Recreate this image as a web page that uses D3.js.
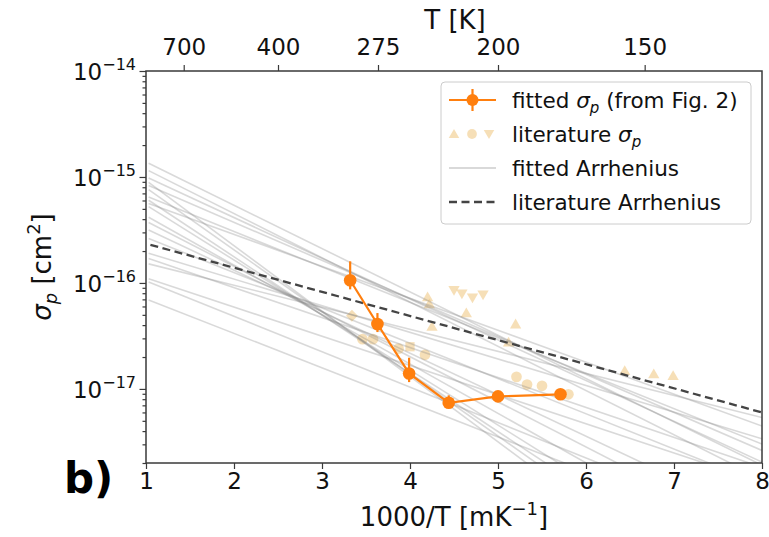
<!DOCTYPE html>
<html>
<head>
<meta charset="utf-8">
<script src="https://cdn.jsdelivr.net/npm/d3@7"></script>
<style>
  body { margin: 0; background: #fff; }
  text { font-family: "DejaVu Sans", sans-serif; }
</style>
</head>
<body>
<svg id="chart" width="769" height="537"></svg>
<script>
// fitted sigma_p (from Fig. 2)
const fittedX = [3.32, 3.63, 3.99, 4.44, 5.0, 5.71];
const fittedSigma = [1.06e-16, 4.1e-17, 1.4e-17, 7.4e-18, 8.5e-18, 8.9e-18];
const fittedLow = [8.7e-17, 3.44e-17, 1.16e-17, 6.9e-18, 8.5e-18, 8.9e-18];
const fittedHigh = [1.6e-16, 5.2e-17, 1.97e-17, 8.7e-18, 8.5e-18, 8.9e-18];

// literature sigma_p, by marker
const litUpX = [4.2, 4.22, 4.25, 4.64, 5.2, 5.12, 6.44, 6.77, 6.99];
const litUpSigma = [7.2e-17, 6.2e-17, 3.8e-17, 5.1e-17, 4.0e-17, 2.7e-17, 1.45e-17, 1.35e-17, 1.3e-17];
const litDownX = [4.5, 4.59, 4.71, 4.83];
const litDownSigma = [8.7e-17, 8.1e-17, 7.4e-17, 7.9e-17];
const litCircleX = [3.46, 3.58, 3.87, 4.17, 5.21, 5.33, 5.5, 5.8];
const litCircleSigma = [2.95e-17, 2.95e-17, 2.4e-17, 2.1e-17, 1.3e-17, 1.1e-17, 1.07e-17, 8.9e-18];
const litDiamondX = [3.34];
const litDiamondSigma = [4.9e-17];
const litSquareX = [4.0];
const litSquareSigma = [2.5e-17];

// fitted Arrhenius lines: log10(sigma) at the two ends of fitRange
const fitRange = [1.03, 8];
const fitLogStart = [-15.05, -15.12, -15.22, -15.38, -15.43, -15.5, -14.87, -14.94, -15.01,
  -15.08, -15.19, -15.25, -15.58, -15.72, -15.77, -15.82, -15.96, -15.99, -16.16, -15.28];
const fitLogEnd = [-19.35, -19.2, -19.05, -18.63, -18.4, -18.23, -17.72, -17.85, -17.69,
  -17.58, -17.52, -17.35, -17.9, -17.47, -17.74, -17.27, -17.88, -18.32, -18.43, -18.9];

// literature Arrhenius
const litArrX = [1.05, 8];
const litArrSigma = [2.29e-16, 6.0e-18];

const bottomTicks = [1, 2, 3, 4, 5, 6, 7, 8];
const topTemps = [700, 400, 275, 200, 150];
const yMajor = [1e-17, 1e-16, 1e-15, 1e-14];

const orange = "#ff7f0e";
const litColor = "#f0c987";
const axisColor = "#3a3a3a";

const svg = d3.select("#chart");
const x = d3.scaleLinear().domain([1, 8]).range([146, 762]);
const y = d3.scaleLog().domain([2e-18, 1e-14]).range([463, 71]);

svg
  .append("defs")
  .append("clipPath")
  .attr("id", "plot-clip")
  .append("rect")
  .attr("x", 146)
  .attr("y", 71)
  .attr("width", 616)
  .attr("height", 392);

const plot = svg.append("g").attr("clip-path", "url(#plot-clip)");

// literature points
const litLayer = plot.append("g").attr("fill", litColor).attr("fill-opacity", 0.6);
function drawLit(xs, vals, type, size, rot) {
  litLayer
    .selectAll(null)
    .data(xs.map((d, i) => [d, vals[i]]))
    .join("path")
    .attr("d", d3.symbol().type(type).size(size))
    .attr("transform", (d) => `translate(${x(d[0])},${y(d[1])}) rotate(${rot})`);
}
drawLit(litUpX, litUpSigma, d3.symbolTriangle, 55, 0);
drawLit(litDownX, litDownSigma, d3.symbolTriangle, 55, 180);
drawLit(litCircleX, litCircleSigma, d3.symbolCircle, 90, 0);
drawLit(litDiamondX, litDiamondSigma, d3.symbolSquare, 70, 45);
drawLit(litSquareX, litSquareSigma, d3.symbolSquare, 85, 0);

// fitted Arrhenius lines
plot
  .append("g")
  .selectAll("line")
  .data(fitLogStart.map((d, i) => [d, fitLogEnd[i]]))
  .join("line")
  .attr("x1", x(fitRange[0]))
  .attr("x2", x(fitRange[1]))
  .attr("y1", (d) => y(Math.pow(10, d[0])))
  .attr("y2", (d) => y(Math.pow(10, d[1])))
  .attr("stroke", "#808080")
  .attr("stroke-opacity", 0.3)
  .attr("stroke-width", 1.6);

// literature Arrhenius
plot
  .append("line")
  .attr("x1", x(litArrX[0]))
  .attr("x2", x(litArrX[1]))
  .attr("y1", y(litArrSigma[0]))
  .attr("y2", y(litArrSigma[1]))
  .attr("stroke", "#444")
  .attr("stroke-width", 2.3)
  .attr("stroke-dasharray", "8,4.5");

// fitted sigma_p with error bars
const fitted = fittedX.map((d, i) => ({
  x: d,
  s: fittedSigma[i],
  lo: fittedLow[i],
  hi: fittedHigh[i],
}));
plot
  .append("g")
  .selectAll("line")
  .data(fitted)
  .join("line")
  .attr("x1", (d) => x(d.x))
  .attr("x2", (d) => x(d.x))
  .attr("y1", (d) => y(d.lo))
  .attr("y2", (d) => y(d.hi))
  .attr("stroke", orange)
  .attr("stroke-width", 2.2);
plot
  .append("path")
  .datum(fitted)
  .attr("fill", "none")
  .attr("stroke", orange)
  .attr("stroke-width", 2.2)
  .attr("d", d3.line().x((d) => x(d.x)).y((d) => y(d.s)));
plot
  .append("g")
  .selectAll("circle")
  .data(fitted)
  .join("circle")
  .attr("cx", (d) => x(d.x))
  .attr("cy", (d) => y(d.s))
  .attr("r", 6.3)
  .attr("fill", orange);

// axes
svg
  .append("g")
  .attr("transform", "translate(0,463)")
  .call(
    d3
      .axisBottom(x)
      .tickValues(bottomTicks)
      .tickFormat(d3.format("d"))
      .tickSize(6)
      .tickPadding(4)
      .tickSizeOuter(0)
  );

svg
  .append("g")
  .attr("transform", "translate(0,71)")
  .call(
    d3
      .axisTop(x)
      .tickValues(topTemps.map((t) => 1000 / t))
      .tickFormat((d, i) => topTemps[i])
      .tickSize(6)
      .tickPadding(10)
      .tickSizeOuter(0)
  );

const yMinor = [];
for (let e = -18; e <= -15; e++) {
  for (let m = 2; m <= 9; m++) {
    const v = m * Math.pow(10, e);
    if (v >= 2e-18 && v <= 1e-14) yMinor.push(v);
  }
}
svg
  .append("g")
  .attr("transform", "translate(146,0)")
  .call(d3.axisLeft(y).tickValues(yMinor).tickFormat("").tickSize(3.5).tickSizeOuter(0));
svg
  .append("g")
  .attr("transform", "translate(146,0)")
  .call(d3.axisLeft(y).tickValues(yMajor).tickFormat("").tickSize(6.5).tickSizeOuter(0));

svg.selectAll(".domain").remove();
svg.selectAll(".tick line").attr("stroke", axisColor).attr("stroke-width", 1.2);
svg
  .selectAll(".tick text")
  .attr("fill", "#111")
  .attr("font-size", "23px")
  .attr("font-family", "DejaVu Sans");

// y tick labels 10^n
yMajor.forEach((v) => {
  const t = svg
    .append("text")
    .attr("x", 136)
    .attr("y", y(v) + 9)
    .attr("text-anchor", "end")
    .attr("font-size", "23px")
    .attr("fill", "#111");
  t.append("tspan").text("10");
  t.append("tspan")
    .attr("dy", -10)
    .attr("font-size", "16px")
    .text("\u2212" + Math.round(-Math.log10(v)));
});

// frame
svg
  .append("rect")
  .attr("x", 146)
  .attr("y", 71)
  .attr("width", 616)
  .attr("height", 392)
  .attr("fill", "none")
  .attr("stroke", axisColor)
  .attr("stroke-width", 1.5);

// axis labels
const xLabel = svg
  .append("text")
  .attr("x", 454)
  .attr("y", 526)
  .attr("text-anchor", "middle")
  .attr("font-size", "26px")
  .attr("fill", "#111");
xLabel.append("tspan").text("1000/T [mK");
xLabel.append("tspan").attr("dy", -11).attr("font-size", "18px").text("\u22121");
xLabel.append("tspan").attr("dy", 11).text("]");

svg
  .append("text")
  .attr("x", 455)
  .attr("y", 29)
  .attr("text-anchor", "middle")
  .attr("font-size", "26px")
  .attr("fill", "#111")
  .text("T [K]");

const yLabel = svg
  .append("text")
  .attr("transform", "translate(51,267) rotate(-90)")
  .attr("text-anchor", "middle")
  .attr("font-size", "26px")
  .attr("fill", "#111");
yLabel.append("tspan").attr("font-style", "italic").text("\u03c3");
yLabel.append("tspan").attr("dy", 6).attr("font-size", "18px").attr("font-style", "italic").text("p");
yLabel.append("tspan").attr("dy", -6).text(" [cm");
yLabel.append("tspan").attr("dy", -11).attr("font-size", "18px").text("2");
yLabel.append("tspan").attr("dy", 11).text("]");

svg
  .append("text")
  .attr("x", 64)
  .attr("y", 493)
  .attr("font-size", "42px")
  .attr("font-weight", "bold")
  .attr("fill", "#000")
  .text("b)");

// legend
const legend = svg.append("g");
legend
  .append("rect")
  .attr("x", 441)
  .attr("y", 82)
  .attr("width", 310)
  .attr("height", 142)
  .attr("rx", 4)
  .attr("fill", "#fff")
  .attr("fill-opacity", 0.8)
  .attr("stroke", "#cccccc");

const rowY = [100, 134, 168, 202];

legend.append("line").attr("x1", 449).attr("x2", 496).attr("y1", rowY[0]).attr("y2", rowY[0])
  .attr("stroke", orange).attr("stroke-width", 2.2);
legend.append("line").attr("x1", 472.5).attr("x2", 472.5).attr("y1", rowY[0] - 11).attr("y2", rowY[0] + 11)
  .attr("stroke", orange).attr("stroke-width", 2.2);
legend.append("circle").attr("cx", 472.5).attr("cy", rowY[0]).attr("r", 6).attr("fill", orange);

const litHandle = legend.append("g").attr("fill", litColor).attr("fill-opacity", 0.6);
litHandle.append("path").attr("d", d3.symbol().type(d3.symbolTriangle).size(48))
  .attr("transform", `translate(454,${rowY[1] + 1})`);
litHandle.append("path").attr("d", d3.symbol().type(d3.symbolCircle).size(75))
  .attr("transform", `translate(472,${rowY[1]})`);
litHandle.append("path").attr("d", d3.symbol().type(d3.symbolTriangle).size(48))
  .attr("transform", `translate(489,${rowY[1] - 1}) rotate(180)`);

legend.append("line").attr("x1", 449).attr("x2", 496).attr("y1", rowY[2]).attr("y2", rowY[2])
  .attr("stroke", "#808080").attr("stroke-opacity", 0.4).attr("stroke-width", 1.6);
legend.append("line").attr("x1", 449).attr("x2", 496).attr("y1", rowY[3]).attr("y2", rowY[3])
  .attr("stroke", "#444").attr("stroke-width", 2.3).attr("stroke-dasharray", "8,4.5");

const legendText = (i) =>
  legend
    .append("text")
    .attr("x", 512)
    .attr("y", rowY[i] + 8)
    .attr("font-size", "21.5px")
    .attr("fill", "#111");

const t0 = legendText(0);
t0.append("tspan").text("fitted ");
t0.append("tspan").attr("font-style", "italic").text("\u03c3");
t0.append("tspan").attr("dy", 5).attr("font-size", "15px").attr("font-style", "italic").text("p");
t0.append("tspan").attr("dy", -5).text(" (from Fig. 2)");

const t1 = legendText(1);
t1.append("tspan").text("literature ");
t1.append("tspan").attr("font-style", "italic").text("\u03c3");
t1.append("tspan").attr("dy", 5).attr("font-size", "15px").attr("font-style", "italic").text("p");

legendText(2).text("fitted Arrhenius");
legendText(3).text("literature Arrhenius");
</script>
</body>
</html>
